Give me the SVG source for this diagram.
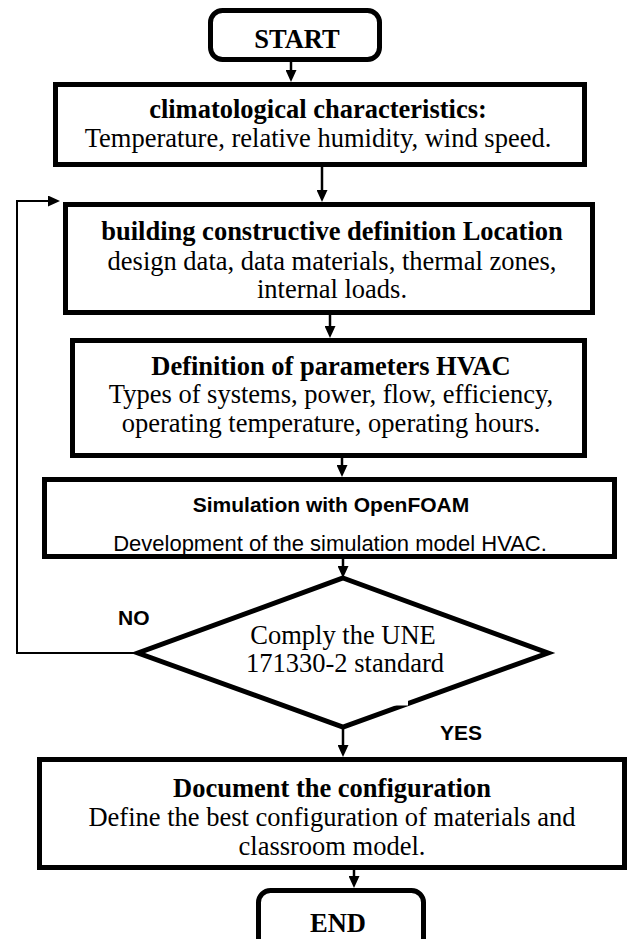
<svg xmlns="http://www.w3.org/2000/svg" width="627" height="939" viewBox="0 0 627 939">
<style>
.box{fill:#fff;stroke:#000;stroke-width:5}
.term{fill:#fff;stroke:#000;stroke-width:5}
.ser{font-family:"Liberation Serif","Times New Roman",serif;font-size:26.5px;fill:#000;text-anchor:middle}
.b{font-weight:bold}
.sans{font-family:"Liberation Sans",Arial,sans-serif;fill:#000}
.con{fill:none;stroke:#000;stroke-width:2.5}
.fb{fill:none;stroke:#000;stroke-width:2}
</style>
<defs>
<marker id="ah" viewBox="0 0 12 11" refX="4" refY="5.5" markerWidth="12" markerHeight="11" markerUnits="userSpaceOnUse" orient="auto">
<path d="M0,0 L12,5.5 L0,11 Z" fill="#000"/>
</marker>
</defs>
<rect width="627" height="939" fill="#fff"/>
<g id="connectors">
<line class="con" x1="291" y1="62" x2="291" y2="74" marker-end="url(#ah)"/>
<line class="con" x1="322" y1="167" x2="322" y2="194" marker-end="url(#ah)"/>
<line class="con" x1="330" y1="315" x2="330" y2="330" marker-end="url(#ah)"/>
<line class="con" x1="342" y1="458" x2="342" y2="469" marker-end="url(#ah)"/>
<line class="con" x1="343" y1="559" x2="343" y2="570" marker-end="url(#ah)"/>
<line class="con" x1="343" y1="727" x2="343" y2="749" marker-end="url(#ah)"/>
<line class="con" x1="354" y1="870" x2="354" y2="880" marker-end="url(#ah)"/>
<polyline class="fb" points="140,653 17,653 17,201 52,201" marker-end="url(#ah)"/>
</g>
<g id="start">
<rect class="term" x="210.5" y="10.5" width="169" height="49" rx="12"/>
<text class="ser b" x="297" y="48" font-size="26">START</text>
</g>
<g id="climate">
<rect class="box" x="55.5" y="84.5" width="529" height="80"/>
<text class="ser b" x="318" y="118">climatological characteristics:</text>
<text class="ser" x="318" y="147">Temperature, relative humidity, wind speed.</text>
</g>
<g id="building">
<rect class="box" x="65.5" y="204.5" width="527" height="108"/>
<text class="ser b" x="332" y="240">building constructive definition Location</text>
<text class="ser" x="332" y="270">design data, data materials, thermal zones,</text>
<text class="ser" x="332" y="298">internal loads.</text>
</g>
<g id="hvac">
<rect class="box" x="72.5" y="340.5" width="512" height="115"/>
<text class="ser b" x="331" y="375">Definition of parameters HVAC</text>
<text class="ser" x="331" y="403">Types of systems, power, flow, efficiency,</text>
<text class="ser" x="331" y="432">operating temperature, operating hours.</text>
</g>
<g id="simulation">
<rect class="box" x="44.5" y="479.5" width="570" height="77"/>
<text class="sans" x="331" y="512" font-size="21" font-weight="bold" text-anchor="middle">Simulation with OpenFOAM</text>
<text class="sans" x="330" y="551" font-size="22" text-anchor="middle">Development of the simulation model HVAC.</text>
</g>
<g id="decision">
<polygon points="343,578 548,653 343,727 138,653" fill="#fff" stroke="#000" stroke-width="5" stroke-linejoin="miter"/>
<rect x="394" y="699" width="14" height="6.5" fill="#fff"/>
<text class="ser" x="343" y="644" font-size="22">Comply the UNE</text>
<text class="ser" x="345" y="672" font-size="22">171330-2 standard</text>
</g>
<g id="labels">
<text class="sans" x="118" y="625" font-size="21" font-weight="bold">NO</text>
<text class="sans" x="440" y="740" font-size="21" font-weight="bold">YES</text>
</g>
<g id="document">
<rect class="box" x="39.5" y="759.5" width="585" height="108"/>
<text class="ser b" x="332" y="797">Document the configuration</text>
<text class="ser" x="332" y="826">Define the best configuration of materials and</text>
<text class="ser" x="332" y="855">classroom model.</text>
</g>
<g id="end">
<rect class="term" x="258.5" y="890.5" width="165" height="70" rx="12"/>
<text class="ser b" x="338" y="932" font-size="26">END</text>
</g>
</svg>
